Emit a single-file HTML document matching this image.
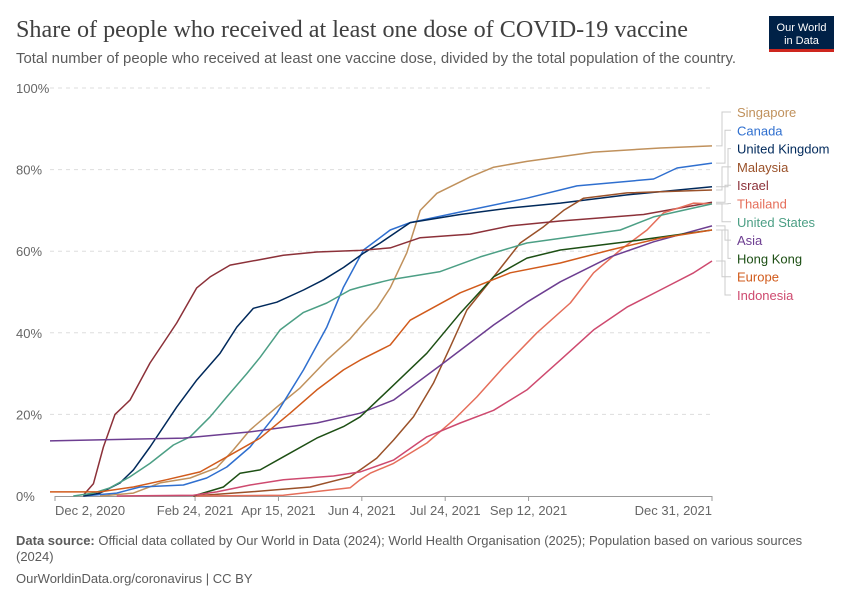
<!DOCTYPE html>
<html><head><meta charset="utf-8"><style>
body{margin:0;background:#fff;}
svg{display:block;font-family:"Liberation Sans",sans-serif;}
</style></head><body>
<svg id="chart" width="850" height="600" viewBox="0 0 850 600" xmlns="http://www.w3.org/2000/svg">
<rect width="850" height="600" fill="#fff"/>
<text x="16" y="37" font-family="Liberation Serif,serif" font-size="24" fill="#404040" textLength="672" lengthAdjust="spacingAndGlyphs">Share of people who received at least one dose of COVID-19 vaccine</text>
<text x="16" y="63" font-size="15" fill="#5b5b5b" textLength="720" lengthAdjust="spacingAndGlyphs">Total number of people who received at least one vaccine dose, divided by the total population of the country.</text>
<g>
<rect x="769" y="16" width="65" height="34" fill="#002147"/>
<rect x="769" y="49" width="65" height="3" fill="#ce261e"/>
<text x="801.5" y="31" font-size="11" fill="#fff" text-anchor="middle">Our World</text>
<text x="801.5" y="44" font-size="11" fill="#fff" text-anchor="middle">in Data</text>
</g>
<g id="grid"></g>
<g id="xaxis"></g>
<g id="lines"></g>
<g id="legend"></g>
<text x="16" y="545" font-size="13" fill="#5b5b5b"><tspan font-weight="bold">Data source:</tspan> Official data collated by Our World in Data (2024); World Health Organisation (2025); Population based on various sources</text>
<text x="16" y="561" font-size="13" fill="#5b5b5b">(2024)</text>
<text x="16" y="583" font-size="13" fill="#5b5b5b">OurWorldinData.org/coronavirus | CC BY</text>
</svg>
<script>
// x values: days since Dec 2, 2020; y values: percent
const yTicks = [0, 20, 40, 60, 80, 100];
const xTickDays = [0, 84, 134, 184, 234, 284, 394];
const xTickLabels = ["Dec 2, 2020","Feb 24, 2021","Apr 15, 2021","Jun 4, 2021","Jul 24, 2021","Sep 12, 2021","Dec 31, 2021"];
const seriesNames = ["Singapore","Canada","United Kingdom","Malaysia","Israel","Thailand","United States","Asia","Hong Kong","Europe","Indonesia"];
const seriesColors = ["#c0915c","#2f6fcf","#00295b","#9a5129","#8c3139","#e56e5a","#4c9f85","#6d3e91","#1d4f14","#d15b1c","#ce4a6f"];
const singapore = [[27,0],[47,0.7],[63,3.2],[81,4.4],[97,6.9],[107,11.3],[117,16.2],[133,21.8],[147,26.5],[163,33.3],[177,38.5],[183,41.4],[193,46],[201,51],[211,59.6],[219,70],[229,74.2],[249,78.2],[263,80.6],[283,82],[323,84.3],[363,85.3],[394,85.8]];
const canada = [[17,0],[37,0.7],[51,2.2],[77,2.7],[91,4.4],[103,7.1],[117,12],[133,20.3],[149,30.9],[163,41.4],[173,51.2],[185,60.3],[201,65.2],[213,67],[243,69.6],[283,73],[313,76],[359,77.7],[373,80.4],[394,81.6]];
const uk = [[17,0],[27,0.7],[39,3.2],[47,6.4],[57,12],[73,21.8],[85,28.4],[99,35],[109,41.4],[119,46],[133,47.5],[149,50.5],[161,53],[173,56],[185,59.5],[195,62],[213,67],[243,69],[273,70.6],[303,71.8],[343,73.8],[394,75.8]];
const malaysia = [[83,0],[117,1],[153,2.2],[177,4.7],[183,6.4],[193,9.3],[203,13.7],[215,19.4],[227,27.7],[237,36.5],[247,45.6],[263,53.7],[279,62],[293,66],[305,70],[317,73],[343,74.3],[394,75]];
const israel = [[17,0.2],[23,3],[29,12],[36,20],[45,23.5],[57,32.6],[65,37.5],[73,42.4],[85,51],[93,53.7],[105,56.6],[121,57.8],[137,59],[157,59.8],[183,60.2],[201,60.8],[219,63.3],[249,64.2],[273,66.2],[303,67.4],[353,69],[394,72]];
const thailand = [[83,0],[137,0.2],[177,2],[183,4],[189,5.6],[203,8],[223,13],[239,18.6],[253,24.3],[269,31.6],[289,40],[309,47.3],[323,54.7],[339,60.3],[355,65.2],[365,69.4],[383,71.8],[394,71.6]];
const unitedStates = [[11,0],[23,0.7],[33,2],[45,4.7],[57,8],[71,12.5],[81,14.5],[93,19.4],[103,24.3],[115,30],[123,34],[135,40.7],[149,45],[163,47.3],[177,50.5],[183,51.2],[201,53],[231,55],[255,58.6],[283,62],[339,65.2],[359,68.4],[394,71.6]];
const asia = [[-3,13.5],[77,14.2],[117,15.7],[157,17.9],[183,20.3],[203,23.5],[233,32.6],[263,41.9],[283,47.5],[303,52.5],[333,58.6],[359,62.3],[394,66.2]];
const hongKong = [[83,0],[101,2.2],[111,5.6],[123,6.4],[137,9.6],[157,14.2],[173,17],[183,19.4],[201,26.4],[223,35],[243,44.8],[263,53.7],[283,58.3],[303,60.3],[343,62.3],[394,65.2]];
const europe = [[-3,1],[27,1],[47,2.2],[67,4],[87,5.9],[107,10.5],[123,14.2],[141,20.3],[157,26],[173,30.9],[183,33.3],[201,37],[213,43.1],[243,49.8],[273,54.7],[303,57.1],[333,60.3],[363,63.2],[394,65.2]];
const indonesia = [[37,0],[83,0.2],[97,1],[117,2.7],[137,4],[167,4.9],[183,5.9],[203,8.8],[223,14.5],[243,17.9],[263,21],[283,26],[303,33.3],[323,40.7],[343,46.3],[363,50.5],[383,54.7],[394,57.6]];
const seriesData = [singapore, canada, uk, malaysia, israel, thailand, unitedStates, asia, hongKong, europe, indonesia];

const NS = "http://www.w3.org/2000/svg";
const X0 = 55, X1 = 712, D0 = 0, D1 = 394, Y0 = 496, Y1 = 88;
function xScale(d){ return X0 + (d - D0) / (D1 - D0) * (X1 - X0); }
function yScale(v){ return Y0 - v / 100 * (Y0 - Y1); }
function mk(tag, attrs, parent){ const e = document.createElementNS(NS, tag); for (const k in attrs) e.setAttribute(k, attrs[k]); parent.appendChild(e); return e; }

const grid = document.getElementById('grid');
yTicks.forEach(t => {
  const y = yScale(t);
  if (t > 0) {
    const l = mk('line', {x1: 50, x2: 712, y1: y, y2: y, stroke: '#ddd', 'stroke-dasharray': '4,4'}, grid);
    
    
  }
  const tx = mk('text', {x: 16, y: y + 5, 'font-size': 13, fill: '#666'}, grid);
  tx.textContent = t + '%';
  
  
});
const xa = document.getElementById('xaxis');
const axl = mk('line', {x1: 55, x2: 712, y1: 496.5, y2: 496.5, stroke: '#999'}, xa);


xTickDays.forEach((d, i) => {
  const x = xScale(d);
  const tk = mk('line', {x1: x, x2: x, y1: 496, y2: 501, stroke: '#999'}, xa);
  
  
  let anchor = 'middle';
  if (i === 0) anchor = 'start';
  if (i === xTickDays.length - 1) anchor = 'end';
  const tx = mk('text', {x: i === 0 ? x : x, y: 515, 'font-size': 13, fill: '#666', 'text-anchor': anchor}, xa);
  tx.textContent = xTickLabels[i];
  
  
});
const lines = document.getElementById('lines');
seriesData.forEach((s, i) => {
  const d = s.map((p, j) => (j ? 'L' : 'M') + xScale(p[0]).toFixed(1) + ',' + yScale(p[1]).toFixed(1)).join('');
  const p = mk('path', {d: d, fill: 'none', stroke: seriesColors[i], 'stroke-width': 1.5, 'stroke-linejoin': 'round'}, lines);
  
  
});
const lg = document.getElementById('legend');
seriesNames.forEach((n, i) => {
  const ly = 112 + i * 18.3;
  const last = seriesData[i][seriesData[i].length - 1];
  const ey = yScale(last[1]);
  const c = mk('path', {d: 'M716,' + ey.toFixed(1) + 'H' + (722 + (i % 3) * 3) + 'V' + ly.toFixed(1) + 'H731', fill: 'none', stroke: '#ccc', 'stroke-width': 1}, lg);
  
  
  const t = mk('text', {x: 737, y: ly + 5, 'font-size': 13, fill: seriesColors[i]}, lg);
  t.textContent = n;
  
  
});
</script>
</body></html>
